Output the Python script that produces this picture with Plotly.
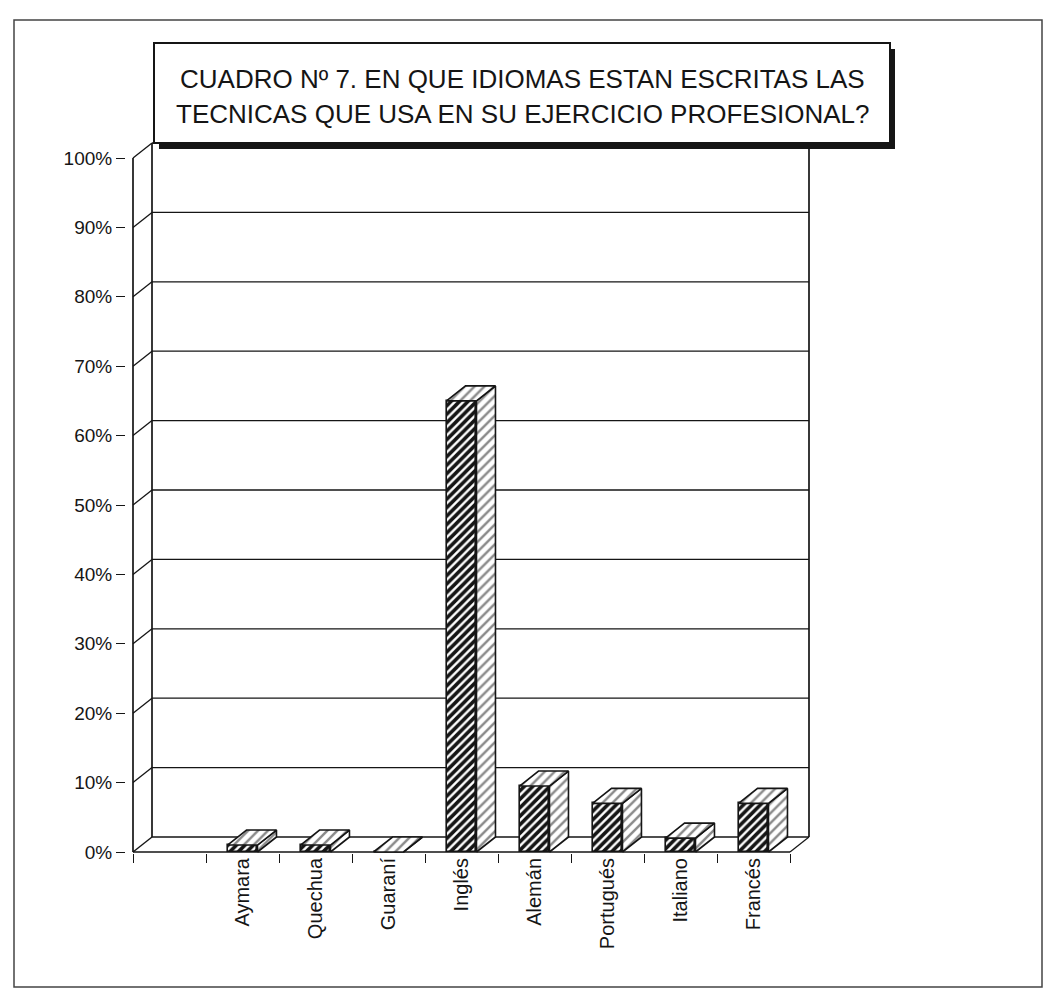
import plotly.graph_objects as go

# ---- data ----
categorias = [" ", "Aymara", "Quechua", "Guaraní", "Inglés", "Alemán", "Portugués", "Italiano", "Francés"]
porcentajes = [None, 1.0, 1.0, 0.0, 65.0, 9.5, 7.0, 2.0, 7.0]
marcas_y = [0, 10, 20, 30, 40, 50, 60, 70, 80, 90, 100]
etiquetas_y = [f"{v}%" for v in marcas_y]
titulo = ["CUADRO Nº 7. EN QUE IDIOMAS ESTAN ESCRITAS LAS",
          "TECNICAS QUE USA EN SU EJERCICIO PROFESIONAL?"]

# ---- page geometry (pixels) ----
W, H = 1048, 993
ML, MR, MT, MB = 126, 236, 141, 140
FRONT_X0, FRONT_X1 = 133, 790      # front edge of the floor
FRONT_Y0, FRONT_Y100 = 852, 158    # 0% and 100% on the front axis
DEPTH_PX = (19, 15)                # offset of the back wall

n = len(categorias)
ppu_x = (FRONT_X1 - FRONT_X0) / n
ppu_y = (FRONT_Y0 - FRONT_Y100) / 100.0
xr = [-0.5 - (FRONT_X0 - ML) / ppu_x, -0.5 + (W - MR - FRONT_X0) / ppu_x]
yr = [-((H - MB) - FRONT_Y0) / ppu_y, (FRONT_Y0 - MT) / ppu_y]
DX = DEPTH_PX[0] / ppu_x
DY = DEPTH_PX[1] / ppu_y
BAR_W = 0.41

LEFT, RIGHT = -0.5, n - 0.5
INK = "#151515"
FONT = "Liberation Sans, Arial, sans-serif"


def px(x):
    return (x - ML) / (W - ML - MR)


def py(y):
    return 1 - (y - MT) / (H - MT - MB)


fig = go.Figure()

# front faces of the columns
xs = [i for i, v in enumerate(porcentajes) if v is not None]
vs = [v for v in porcentajes if v is not None]
fig.add_trace(go.Bar(
    x=xs, y=vs, width=BAR_W,
    marker=dict(color="white", line=dict(color=INK, width=1.6),
                pattern=dict(shape="/", fgcolor=INK, bgcolor="white",
                             size=6, solidity=0.6, fillmode="replace")),
    hoverinfo="skip", showlegend=False,
))

# side and top faces of the columns
light = dict(shape="/", fgcolor=INK, bgcolor="white", size=7, solidity=0.35)
for i, v in zip(xs, vs):
    a, b = i - BAR_W / 2, i + BAR_W / 2
    side_x = [b, b, b + DX, b + DX, b]
    side_y = [0, v, v + DY, DY, 0]
    top_x = [a, b, b + DX, a + DX, a]
    top_y = [v, v, v + DY, v + DY, v]
    for fx, fy in ((side_x, side_y), (top_x, top_y)):
        fig.add_trace(go.Scatter(
            x=fx, y=fy, mode="lines", fill="toself", fillcolor="white",
            fillpattern=light, line=dict(color=INK, width=1.6),
            hoverinfo="skip", showlegend=False,
        ))

# walls, floor and gridlines
shapes = []


def seg(x0, y0, x1, y1, w=1.4):
    shapes.append(dict(type="line", xref="x", yref="y", x0=x0, y0=y0, x1=x1, y1=y1,
                       line=dict(color=INK, width=w), layer="below"))


for k in marcas_y[1:]:
    seg(LEFT + DX, k + DY, RIGHT + DX, k + DY, 1.3)
    seg(LEFT, k, LEFT + DX, k + DY, 1.3)
seg(LEFT, 0, LEFT, 100, 1.7)
seg(LEFT + DX, DY, LEFT + DX, 100 + DY, 1.7)
seg(RIGHT + DX, DY, RIGHT + DX, 100 + DY, 1.7)
seg(LEFT, 0, RIGHT, 0, 1.7)
seg(LEFT + DX, DY, RIGHT + DX, DY, 1.7)
seg(LEFT, 0, LEFT + DX, DY, 1.4)
seg(RIGHT, 0, RIGHT + DX, DY, 1.2)

# page frame
shapes.append(dict(type="rect", xref="paper", yref="paper",
                   x0=px(14), x1=px(1042), y0=py(20), y1=py(987),
                   line=dict(color="#444", width=1.5), layer="below"))
# title box with drop shadow
shapes.append(dict(type="rect", xref="paper", yref="paper",
                   x0=px(159), x1=px(895), y0=py(49), y1=py(149),
                   fillcolor=INK, line=dict(width=0), layer="above"))
shapes.append(dict(type="rect", xref="paper", yref="paper",
                   x0=px(154), x1=px(890), y0=py(43), y1=py(143),
                   fillcolor="white", line=dict(color=INK, width=2), layer="above"))

annotations = []
for linea, yc in zip(titulo, (79, 114)):
    annotations.append(dict(text=linea, xref="paper", yref="paper",
                            x=px(522), y=py(yc), xanchor="center", yanchor="middle",
                            showarrow=False, font=dict(family=FONT, size=26, color=INK)))

fig.update_layout(
    width=W, height=H,
    margin=dict(l=ML, r=MR, t=MT, b=MB, pad=0),
    paper_bgcolor="white", plot_bgcolor="white",
    shapes=shapes, annotations=annotations,
    bargap=0, showlegend=False,
    font=dict(family=FONT, color=INK),
    xaxis=dict(range=xr, showgrid=False, zeroline=False, showline=False,
               tickmode="array", tickvals=list(range(n)), ticktext=categorias,
               tickangle=-90, ticks="", tickfont=dict(size=20, color=INK),
               minor=dict(tickmode="array", tickvals=[i - 0.5 for i in range(n + 1)],
                          ticks="outside", ticklen=9, tickwidth=1.3, tickcolor=INK,
                          showgrid=False),
               fixedrange=True),
    yaxis=dict(range=yr, showgrid=False, zeroline=False, showline=False,
               tickmode="array", tickvals=marcas_y, ticktext=etiquetas_y,
               ticks="outside", ticklen=9, tickwidth=1.3, tickcolor=INK,
               tickfont=dict(size=19, color=INK), fixedrange=True),
)

fig.write_html("out.html")
